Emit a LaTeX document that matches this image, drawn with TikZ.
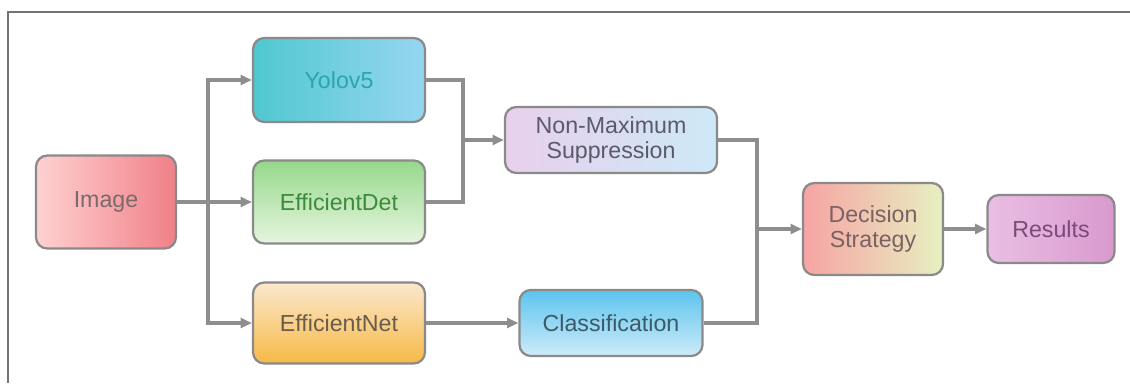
\documentclass[tikz,border=0pt]{standalone}
\usepackage{fontspec}
\setmainfont{Liberation Sans}
\usetikzlibrary{arrows.meta}

\definecolor{linegray}{HTML}{8E8E8E}
\definecolor{boxgray}{HTML}{8A8A8A}

\begin{document}
\begin{tikzpicture}[>={Triangle[length=8pt,width=7pt]},
  box/.style={draw=boxgray, line width=1.6pt, rounded corners=8pt, align=center,
    font=\fontsize{16.5}{18}\selectfont, inner sep=0pt},
  link/.style={draw=linegray, line width=2.2pt}]
\useasboundingbox (0,0) rectangle (28.25,9.575);
\draw [gray!90!black, line width=1.5pt] (0.2,0)--(0.2,9.275)--(28.25,9.275);

\node [box, minimum width=3.5cm, minimum height=2.325cm, left color=red!18, right color={rgb,255:red,240;green,128;blue,136}, text={rgb,255:red,122;green,106;blue,106}] (img) at (2.65,4.525) {Image};
\node [box, minimum width=4.3cm, minimum height=2.1cm, left color={rgb,255:red,80;green,200;blue,208}, right color={rgb,255:red,150;green,214;blue,240}, text={rgb,255:red,43;green,165;blue,170}] (yolo) at (8.475,7.575) {Yolov5};
\node [box, minimum width=4.3cm, minimum height=2.075cm, top color={rgb,255:red,150;green,216;blue,140}, bottom color={rgb,255:red,230;green,245;blue,222}, text={rgb,255:red,60;green,138;blue,60}] (edet) at (8.475,4.525) {EfficientDet};
\node [box, minimum width=4.3cm, minimum height=2.025cm, top color={rgb,255:red,252;green,232;blue,206}, bottom color={rgb,255:red,245;green,185;blue,70}, text={rgb,255:red,106;green,92;blue,76}] (enet) at (8.475,1.5) {EfficientNet};

\node [box, minimum width=5.3cm, minimum height=1.65cm, left color={rgb,255:red,232;green,208;blue,236}, right color={rgb,255:red,205;green,233;blue,247}, text={rgb,255:red,90;green,90;blue,106}] (nms) at (15.275,6.075) {Non-Maximum\\Suppression};
\node [box, minimum width=4.575cm, minimum height=1.65cm, top color={rgb,255:red,92;green,196;blue,238}, bottom color={rgb,255:red,205;green,235;blue,248}, text={rgb,255:red,58;green,90;blue,106}] (cls) at (15.275,1.5) {Classification};

\node [box, minimum width=3.5cm, minimum height=2.3cm, left color={rgb,255:red,246;green,164;blue,164}, right color={rgb,255:red,230;green,240;blue,192}, text={rgb,255:red,122;green,98;blue,98}] (dec) at (21.825,3.85) {Decision\\Strategy};
\node [box, minimum width=3.175cm, minimum height=1.7cm, left color={rgb,255:red,234;green,190;blue,228}, right color={rgb,255:red,216;green,154;blue,205}, text={rgb,255:red,122;green,74;blue,122}] (res) at (26.275,3.85) {Results};

\coordinate (split) at (5.2,4.525);
\coordinate (join1) at (11.575,6.075);
\coordinate (join2) at (18.925,3.85);

\draw [link,->] (img) -- (edet);
\draw [link,->] (split) |- (yolo);
\draw [link,->] (split) |- (enet);
\draw [link] (yolo.east) -| (join1) |- (edet.east);
\draw [link,->] (join1) -- (nms);
\draw [link,->] (enet) -- (cls);
\draw [link] (nms.east) -| (join2) |- (cls.east);
\draw [link,->] (join2) -- (dec);
\draw [link,->] (dec) -- (res);

\end{tikzpicture}
\end{document}
